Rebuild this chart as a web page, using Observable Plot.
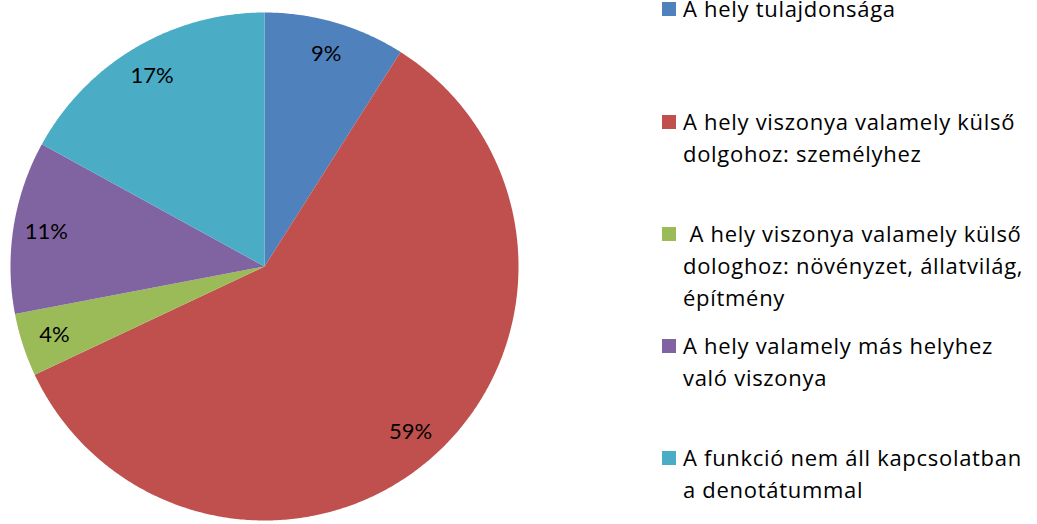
<!DOCTYPE html>
<html>
<head>
<meta charset="utf-8">
<script src="https://cdn.jsdelivr.net/npm/d3@7"></script>
<script src="https://cdn.jsdelivr.net/npm/@observablehq/plot@0.6"></script>
<style>
  html, body { margin: 0; padding: 0; background: #fff; }
  #wrap { position: relative; width: 1037px; height: 524px; overflow: hidden; font-family: "Open Sans", Lato, sans-serif; }
  #chart { position: absolute; left: 0; top: 0; }
  .item { position: absolute; left: 662px; width: 375px; font-size: 22px; letter-spacing: 0.7px; line-height: 32px; color: #000; }
  .sw { position: absolute; left: 0; width: 14px; height: 14px; }
  .txt { position: absolute; left: 21px; white-space: pre; }
</style>
</head>
<body>
<div id="wrap">
  <div id="chart"></div>
  <div id="legend"></div>
</div>
<script>
const categories = [
  "A hely tulajdonsága",
  "A hely viszonya valamely külső dolgohoz: személyhez",
  " A hely viszonya valamely külső dologhoz: növényzet, állatvilág, építmény",
  "A hely valamely más helyhez való viszonya",
  "A funkció nem áll kapcsolatban a denotátummal"
];
const legendLines = [
  ["A hely tulajdonsága"],
  ["A hely viszonya valamely külső", "dolgohoz: személyhez"],
  [" A hely viszonya valamely külső", "dologhoz: növényzet, állatvilág,", "építmény"],
  ["A hely valamely más helyhez", "való viszonya"],
  ["A funkció nem áll kapcsolatban", "a denotátummal"]
];
const values = [9, 59, 4, 11, 17];
const labels = ["9%", "59%", "4%", "11%", "17%"];
const colors = ["#4F81BD", "#C0504D", "#9BBB59", "#8064A2", "#4BACC6"];

// layout
const cx = 264, cy = 266, R = 254;
const legendBaselines = [17, 130, 242, 354, 466];

const arcs = d3.pie().sort(null).value(d => d)(values);
const poly = [];
arcs.forEach((a, i) => {
  const cat = categories[i];
  poly.push({cat, x: 0, y: 0});
  const n = Math.max(2, Math.ceil((a.endAngle - a.startAngle) / (Math.PI / 360)));
  for (let k = 0; k <= n; k++) {
    const t = a.startAngle + (a.endAngle - a.startAngle) * k / n;
    poly.push({cat, x: Math.sin(t), y: -Math.cos(t)});
  }
  poly.push({cat, x: 0, y: 0});
});
const lab = arcs.map((a, i) => {
  const m = (a.startAngle + a.endAngle) / 2;
  return {label: labels[i], x: 0.87 * Math.sin(m), y: -0.87 * Math.cos(m)};
});

const plot = Plot.plot({
  width: 540,
  height: 524,
  margin: 0,
  x: {domain: [-1, 1], range: [cx - R, cx + R], axis: null},
  y: {domain: [-1, 1], range: [cy - R, cy + R], axis: null},
  color: {domain: categories, range: colors},
  style: {background: "transparent"},
  marks: [
    Plot.line(poly, {x: "x", y: "y", z: "cat", fill: "cat", stroke: null, curve: "linear"}),
    Plot.text(lab, {x: "x", y: "y", text: "label", fontSize: 22, fill: "#000", fontFamily: "Lato, 'Open Sans', sans-serif"})
  ]
});
document.getElementById("chart").appendChild(plot);

const leg = document.getElementById("legend");
const fs = 22;
const asc = fs * 1.069, contentH = fs * 1.362;
const lead = (32 - contentH) / 2;
legendLines.forEach((lines, i) => {
  const div = document.createElement("div");
  div.className = "item";
  const base = legendBaselines[i];
  div.style.top = (base - lead - asc) + "px";
  div.style.height = (32 * lines.length) + "px";
  const sw = document.createElement("div");
  sw.className = "sw";
  sw.style.background = colors[i];
  sw.style.top = (lead + asc - 15) + "px";
  div.appendChild(sw);
  const t = document.createElement("div");
  t.className = "txt";
  t.textContent = lines.join("\n");
  div.appendChild(t);
  leg.appendChild(div);
});
</script>
</body>
</html>
